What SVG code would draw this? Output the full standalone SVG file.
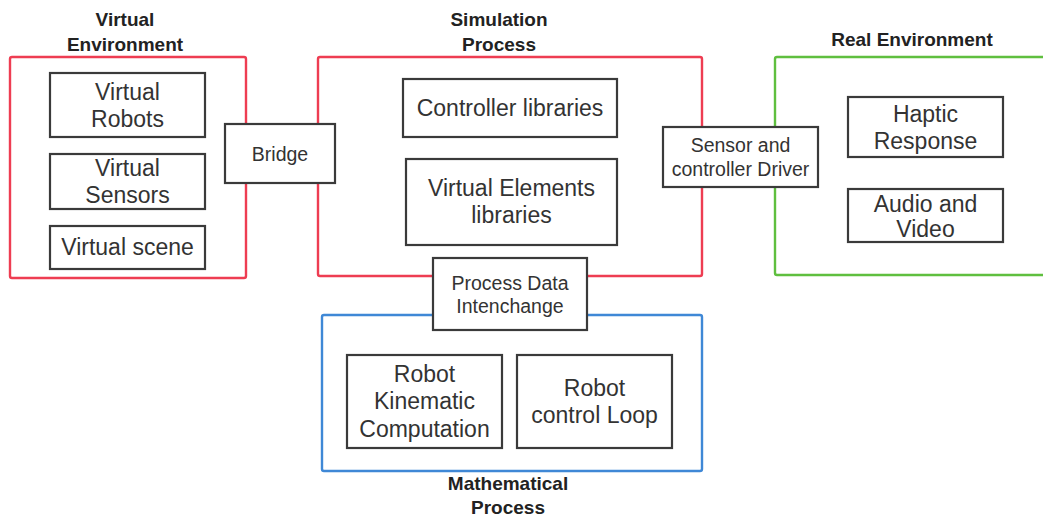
<svg xmlns="http://www.w3.org/2000/svg" width="1043" height="516" viewBox="0 0 1043 516">
<style>
  .bg { fill: #ffffff; }
  .box { fill: #ffffff; stroke: #3a3a3a; stroke-width: 2.2; }
  .red { fill: none; stroke: #ee3d52; stroke-width: 2.4; }
  .green { fill: none; stroke: #5fbf3f; stroke-width: 2.4; }
  .blue { fill: none; stroke: #3f88d6; stroke-width: 2.4; }
  .t { font-family: "Liberation Sans", Arial, sans-serif; fill: #333333; text-anchor: middle; font-size: 23px; }
  .s { font-size: 19.5px; }
  .h { font-family: "Liberation Sans", Arial, sans-serif; fill: #222222; text-anchor: middle; font-size: 19px; font-weight: bold; }
</style>
<rect class="bg" x="0" y="0" width="1043" height="516"/>

<g id="virtual-environment">
  <rect class="red" x="10" y="57" width="236" height="221" rx="2"/>
  <text class="h" x="125" y="26">Virtual</text>
  <text class="h" x="125" y="51">Environment</text>
</g>
<g id="simulation-process">
  <rect class="red" x="318" y="57" width="384" height="219" rx="2"/>
  <text class="h" x="499" y="26">Simulation</text>
  <text class="h" x="499" y="51">Process</text>
</g>
<g id="real-environment">
  <rect class="green" x="775" y="57" width="290" height="218" rx="2"/>
  <text class="h" x="912" y="46">Real Environment</text>
</g>
<g id="mathematical-process">
  <rect class="blue" x="322" y="315" width="380" height="156" rx="2"/>
  <text class="h" x="508" y="490">Mathematical</text>
  <text class="h" x="508" y="514">Process</text>
</g>

<g id="connectors"></g>

<g id="virtual-robots">
  <rect class="box" x="50" y="73" width="155" height="64"/>
  <text class="t" x="127.5" y="100">Virtual</text>
  <text class="t" x="127.5" y="127">Robots</text>
</g>
<g id="virtual-sensors">
  <rect class="box" x="50" y="154" width="155" height="55"/>
  <text class="t" x="127.5" y="176">Virtual</text>
  <text class="t" x="127.5" y="203">Sensors</text>
</g>
<g id="virtual-scene">
  <rect class="box" x="50" y="226" width="155" height="43"/>
  <text class="t" x="127.5" y="255">Virtual scene</text>
</g>
<g id="bridge">
  <rect class="box" x="225" y="124" width="110" height="59"/>
  <text class="t s" x="280" y="161">Bridge</text>
</g>
<g id="controller-libraries">
  <rect class="box" x="403" y="79" width="214" height="58"/>
  <text class="t" x="510" y="116">Controller libraries</text>
</g>
<g id="virtual-elements-libraries">
  <rect class="box" x="406" y="159" width="211" height="86"/>
  <text class="t" x="511.5" y="196">Virtual Elements</text>
  <text class="t" x="511.5" y="223">libraries</text>
</g>
<g id="sensor-controller-driver">
  <rect class="box" x="663" y="127" width="155" height="60"/>
  <text class="t s" x="740.5" y="152">Sensor and</text>
  <text class="t s" x="740.5" y="176">controller Driver</text>
</g>
<g id="haptic-response">
  <rect class="box" x="848" y="97" width="155" height="60"/>
  <text class="t" x="925.5" y="122">Haptic</text>
  <text class="t" x="925.5" y="149">Response</text>
</g>
<g id="audio-video">
  <rect class="box" x="848" y="189" width="155" height="53"/>
  <text class="t" x="925.5" y="212">Audio and</text>
  <text class="t" x="925.5" y="237">Video</text>
</g>
<g id="process-data-interchange">
  <rect class="box" x="433" y="258" width="154" height="72"/>
  <text class="t s" x="510" y="290">Process Data</text>
  <text class="t s" x="510" y="313">Intenchange</text>
</g>
<g id="robot-kinematic-computation">
  <rect class="box" x="347" y="355" width="155" height="93"/>
  <text class="t" x="424.5" y="382">Robot</text>
  <text class="t" x="424.5" y="409">Kinematic</text>
  <text class="t" x="424.5" y="437">Computation</text>
</g>
<g id="robot-control-loop">
  <rect class="box" x="517" y="355" width="155" height="93"/>
  <text class="t" x="594.5" y="396">Robot</text>
  <text class="t" x="594.5" y="423">control Loop</text>
</g>
</svg>
